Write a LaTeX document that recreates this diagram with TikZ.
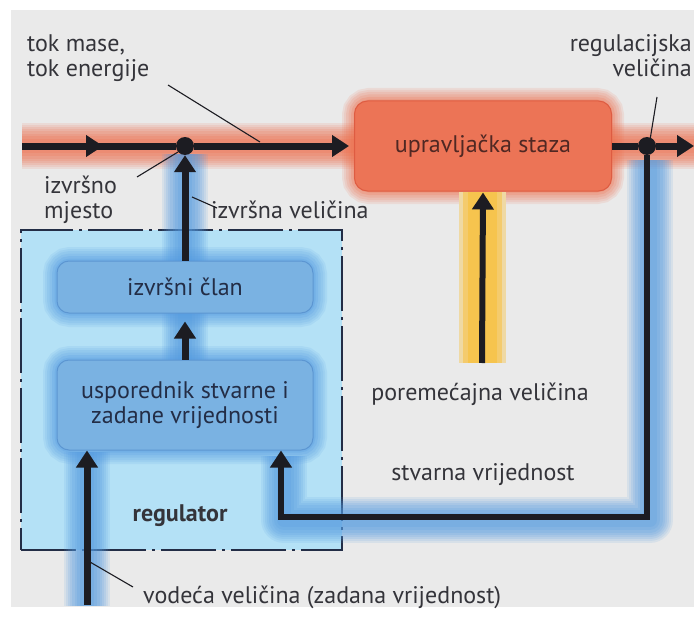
\documentclass[tikz,border=0pt]{standalone}
\usepackage{fontspec}
\setmainfont{PT Sans}
\usetikzlibrary{arrows.meta,calc}
\definecolor{bg}{RGB}{234,234,234}
\definecolor{ink}{RGB}{28,28,34}
\definecolor{txt}{RGB}{52,52,58}
\definecolor{regfill}{RGB}{180,225,246}
\definecolor{regline}{RGB}{35,45,70}
\definecolor{boxblue}{RGB}{122,178,226}
\definecolor{boxblueline}{RGB}{92,150,210}
\definecolor{glowblue}{RGB}{85,155,225}
\definecolor{redfill}{RGB}{236,116,86}
\definecolor{redline}{RGB}{222,92,66}
\definecolor{glowred}{RGB}{240,110,75}
\definecolor{yel}{RGB}{246,196,78}
\definecolor{boxtxt}{RGB}{35,45,70}
\definecolor{stxt}{RGB}{80,40,35}
\tikzset{
  ln/.style={draw=ink, line width=7pt},
  arr/.style={ln, -{Triangle[length=17pt,width=21pt]}},
  dot/.style={circle, fill=ink, inner sep=0pt, minimum size=18pt},
  leader/.style={draw=ink, line width=1.1pt},
  lbl/.style={text=txt, inner sep=0pt},
  glow/.style={line join=round,
    preaction={draw=#1,line width=46pt,opacity=.12,line join=round},
    preaction={draw=#1,line width=42pt,opacity=.12,line join=round},
    preaction={draw=#1,line width=38pt,opacity=.14,line join=round},
    preaction={draw=#1,line width=34pt,opacity=.14,line join=round},
    preaction={draw=#1,line width=30pt,opacity=.16,line join=round},
    preaction={draw=#1,line width=25pt,opacity=.16,line join=round},
    preaction={draw=#1,line width=20pt,opacity=.18,line join=round},
    preaction={draw=#1,line width=14pt,opacity=.2,line join=round}},
  boxglow/.style={rounded corners=13pt,
    preaction={draw=#1,line width=28pt,opacity=.12},
    preaction={draw=#1,line width=24pt,opacity=.12},
    preaction={draw=#1,line width=20pt,opacity=.14},
    preaction={draw=#1,line width=15pt,opacity=.16},
    preaction={draw=#1,line width=10pt,opacity=.2},
    preaction={draw=#1,line width=5pt,opacity=.25}},
  sbox/.style={rounded corners=13pt, fill=redfill, draw=redline, line width=1pt,
    minimum width=257pt, minimum height=90pt, text=stxt},
  bbox/.style={rounded corners=12pt, fill=boxblue, draw=boxblueline, line width=1pt,
    minimum width=256pt, text=boxtxt, align=center},
  regbox/.style={fill=regfill, draw=regline, line width=1.4pt,
    dash pattern=on 55pt off 6pt on 3pt off 6pt, minimum width=321pt, minimum height=320pt},
}
\begin{document}
\begin{tikzpicture}[x=1pt,y=-1pt, font=\fontsize{24}{25}\selectfont]
\useasboundingbox (0,0) rectangle (694,618);
\clip (0,0) rectangle (694,618);
\fill[white] (0,0) rectangle (694,618);
\fill[bg] (11,10) rectangle (694,607);

% coordinates
\coordinate (L0) at (22,146);
\coordinate (M1) at (103,146);
\coordinate (R0) at (694,146);
\coordinate (FB1) at (647,517);
\coordinate (FB2) at (281,517);
\coordinate (IN) at (87,605);
\coordinate (Y0) at (482,363);

% regulator region
\node[regbox] (REG) at (181.5,390) {};

% glows
\path[glow=glowred] (L0) -- (R0);
\path[boxglow=glowred] (356,102) rectangle (610,190);
\path[glow=glowblue] (185,154) -- (185,262);
\path[glow=glowblue] (185,312) -- (185,362);
\path[boxglow=glowblue] (57,261) rectangle (313,313);
\path[boxglow=glowblue] (57,360) rectangle (313,450);
\path[glow=glowblue] (87,606) -- (87,452);
\path[glow=glowblue] (650,160) -- (650,520) -- (284,520) -- (284,456);

% yellow band
\fill[yel!45!bg] (459,192) rectangle (506,363);
\fill[yel!80!bg] (463,192) rectangle (502,363);
\fill[yel] (468,192) rectangle (497,363);

% boxes
\node[sbox] (S) at (483,146) {upravljačka staza};
\node[bbox, minimum height=52pt] (A) at (185,287) {izvršni član};
\node[bbox, minimum height=90pt] (C) at (185,405) {usporednik stvarne i\\zadane vrijednosti};
\node[dot] (J1) at (185,146) {};
\node[dot] (J2) at (647,146) {};

% connectors
\draw[ln] (L0) -- (J1);
\draw[arr] (L0) -- (M1);
\draw[arr, shorten >=5pt] (J1) -- (S.west);
\draw[ln] (S.east) -- (J2);
\draw[arr] (J2) -- (R0);
\draw[arr] (A.north) -- (J1.south);
\draw[arr, shorten >=8pt] (C.north) -- (A.south);
\draw[arr] (IN) -- (IN |- C.south);
\draw[arr, line width=6.5pt, line join=miter] (J2) -- (FB1) -- (FB2) -- (FB2 |- C.south);
\draw[arr, line width=6pt, shorten >=1pt] (Y0) -- (S.south);

% labels (base = baseline of last line)
\node[lbl, anchor=base west, align=left] (ttok) at (27,77) {tok mase,\\tok energije};
\node[lbl, anchor=base west, align=left] (tizm) at (44,218) {izvršno\\mjesto};
\node[lbl, anchor=base west] (tizv) at (211,218) {izvršna veličina};
\node[lbl, anchor=base east, align=right] (treg) at (692,77) {regulacijska\\veličina};
\node[lbl, anchor=base] (tpor) at (480,400) {poremećajna veličina};
\node[lbl, anchor=base] (tstv) at (483,480) {stvarna vrijednost};
\node[lbl, anchor=base, font=\fontsize{24}{25}\selectfont\bfseries] (tregl) at (180,521) {regulator};
\node[lbl, anchor=base west] (tvod) at (143,603) {vodeća veličina (zadana vrijednost)};

% leader lines
\coordinate (ptok) at (260,142);
\coordinate (pizm) at (178,152);
\coordinate (pizv) at (192,197);
\coordinate (preg) at (650,140);
\coordinate (pvod) at (90,562);
\draw[leader] (168,85) -- (ptok);
\draw[leader] (137,177) -- (pizm);
\draw[leader] (pizv) -- (217,208);
\draw[leader] (657,97) -- (preg);
\draw[leader] (pvod) -- (133,587);
\end{tikzpicture}
\end{document}
